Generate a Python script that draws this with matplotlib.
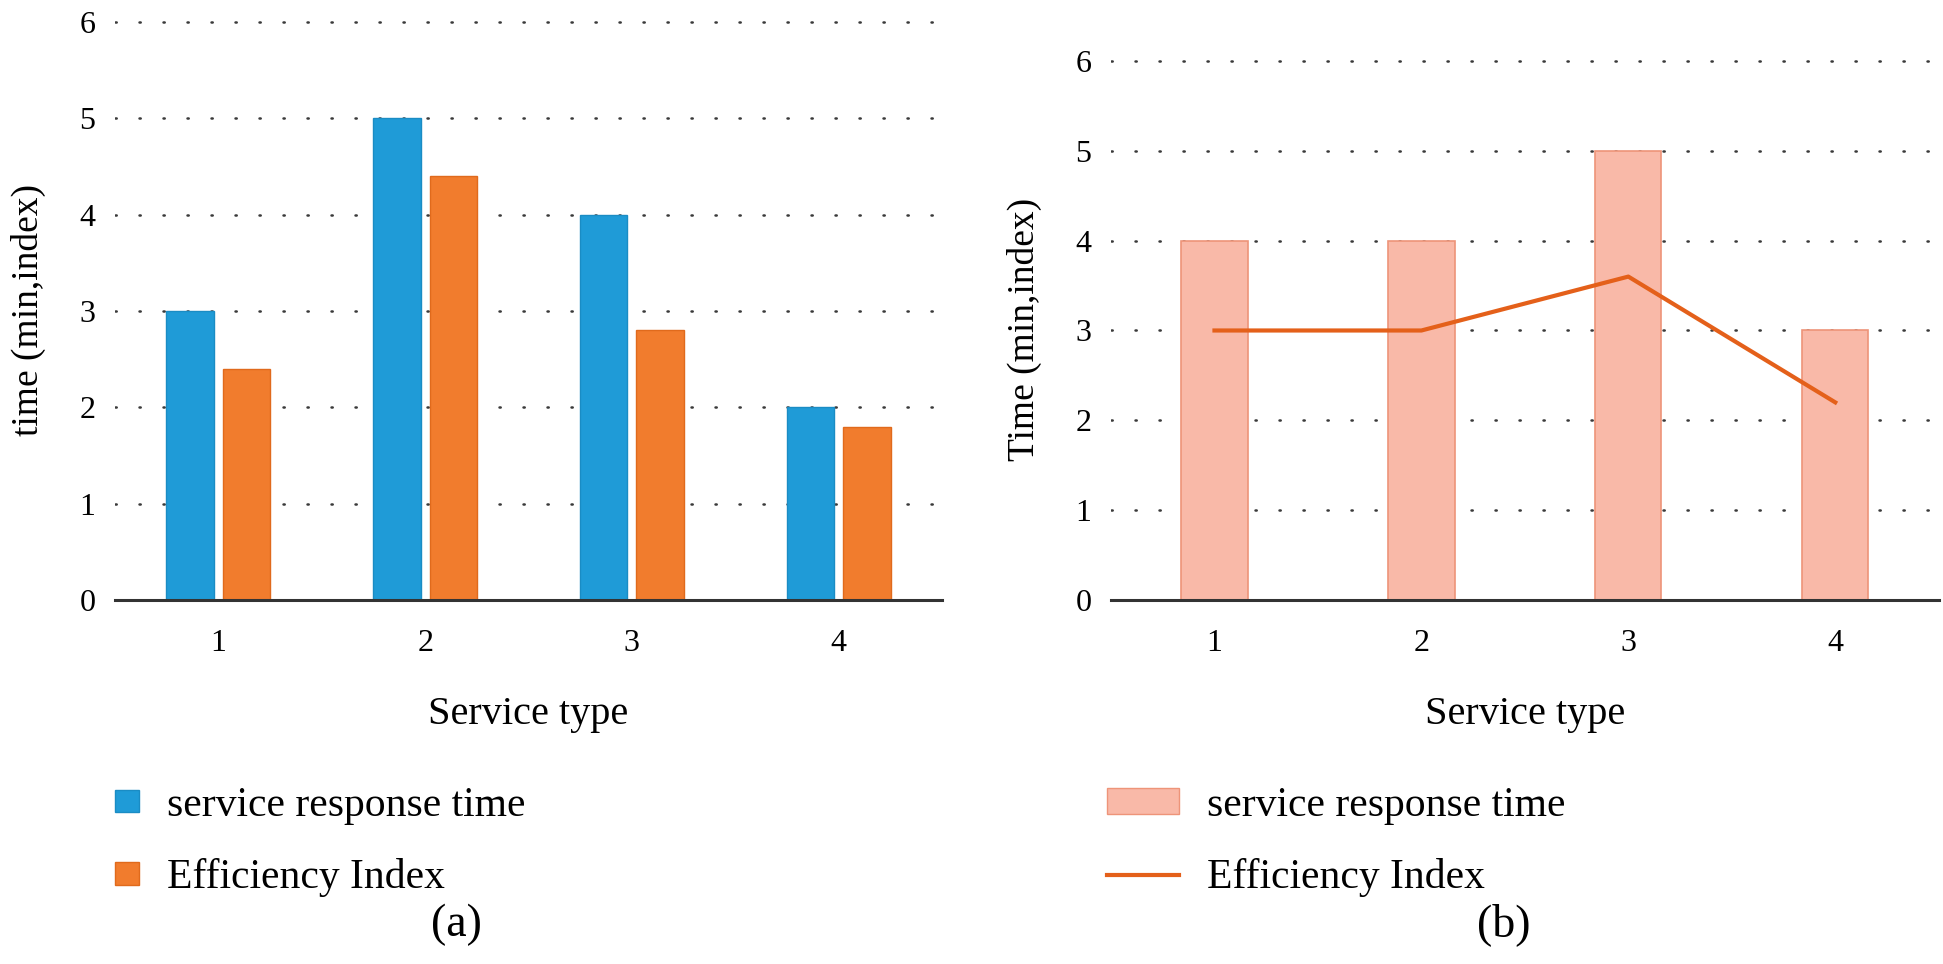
import matplotlib
matplotlib.use("Agg")
import matplotlib.pyplot as plt
from matplotlib.patches import Patch
from matplotlib.lines import Line2D
import numpy as np

plt.rcParams["font.family"] = ["Liberation Serif", "DejaVu Serif"]

service_types = [1, 2, 3, 4]
response_a = [3, 5, 4, 2]
efficiency_a = [2.4, 4.4, 2.8, 1.8]
response_b = [4, 4, 5, 3]
efficiency_b = [3, 3, 3.6, 2.2]
labels = ["service response time", "Efficiency Index"]

blue = "#1f9bd7"
orange = "#f17c2d"
pink = "#f9b9a8"
line_orange = "#e4601a"

fig = plt.figure(figsize=(19.43, 9.64), dpi=100)
ax1 = fig.add_axes([0.0592, 0.3776, 0.4256, 0.6017])
ax2 = fig.add_axes([0.5718, 0.3776, 0.4260, 0.5610])

x = np.array(service_types)


def style(ax, ylabel):
    ax.set_xlim(0.5, 4.5)
    ax.set_ylim(0, 6.02)
    ax.set_yticks(range(0, 7))
    ax.set_xticks(service_types)
    for s in ["top", "right", "left"]:
        ax.spines[s].set_visible(False)
    ax.spines["bottom"].set_color("#333333")
    ax.spines["bottom"].set_linewidth(2.2)
    ax.tick_params(axis="both", length=0, labelsize=23)
    ax.tick_params(axis="y", pad=14)
    ax.tick_params(axis="x", pad=21)
    for yv in range(1, 7):
        ax.axhline(yv, color="#3a3a3a", linewidth=1.8, linestyle=(0, (0.5, 9.1)),
                   dash_capstyle="round", zorder=0)
    ax.set_ylabel(ylabel, fontsize=27, labelpad=24)
    ax.set_xlabel("Service type", fontsize=29, labelpad=27)


w = 0.23
ax1.bar(x - 0.137, response_a, w, color=blue, edgecolor="#1a8cc4", linewidth=1, zorder=2)
ax1.bar(x + 0.137, efficiency_a, w, color=orange, edgecolor="#e06a1c", linewidth=1, zorder=2)
style(ax1, "time (min,index)")

ax2.bar(x, response_b, 0.32, color=pink, edgecolor="#ee9479", linewidth=1.2, zorder=2)
ax2.plot(x, efficiency_b, color=line_orange, linewidth=3, zorder=3)
style(ax2, "Time (min,index)")

h1 = [Patch(facecolor=blue, edgecolor="#1a8cc4"), Patch(facecolor=orange, edgecolor="#e06a1c")]
fig.legend(h1, labels, loc="upper left", bbox_to_anchor=(0.0592, 0.184), frameon=False,
           fontsize=30, handlelength=0.58, handleheight=0.45, handletextpad=0.67,
           labelspacing=0.8, borderpad=0, borderaxespad=0)

h2 = [Patch(facecolor=pink, edgecolor="#ee9479"), Line2D([], [], color=line_orange, linewidth=3)]
fig.legend(h2, labels, loc="upper left", bbox_to_anchor=(0.5695, 0.184), frameon=False,
           fontsize=30, handlelength=1.75, handleheight=0.58, handletextpad=0.67,
           labelspacing=0.8, borderpad=0, borderaxespad=0)

fig.text(0.235, 0.041, "(a)", fontsize=33, ha="center", va="center")
fig.text(0.774, 0.041, "(b)", fontsize=33, ha="center", va="center")

fig.savefig("out.png", dpi=100)
